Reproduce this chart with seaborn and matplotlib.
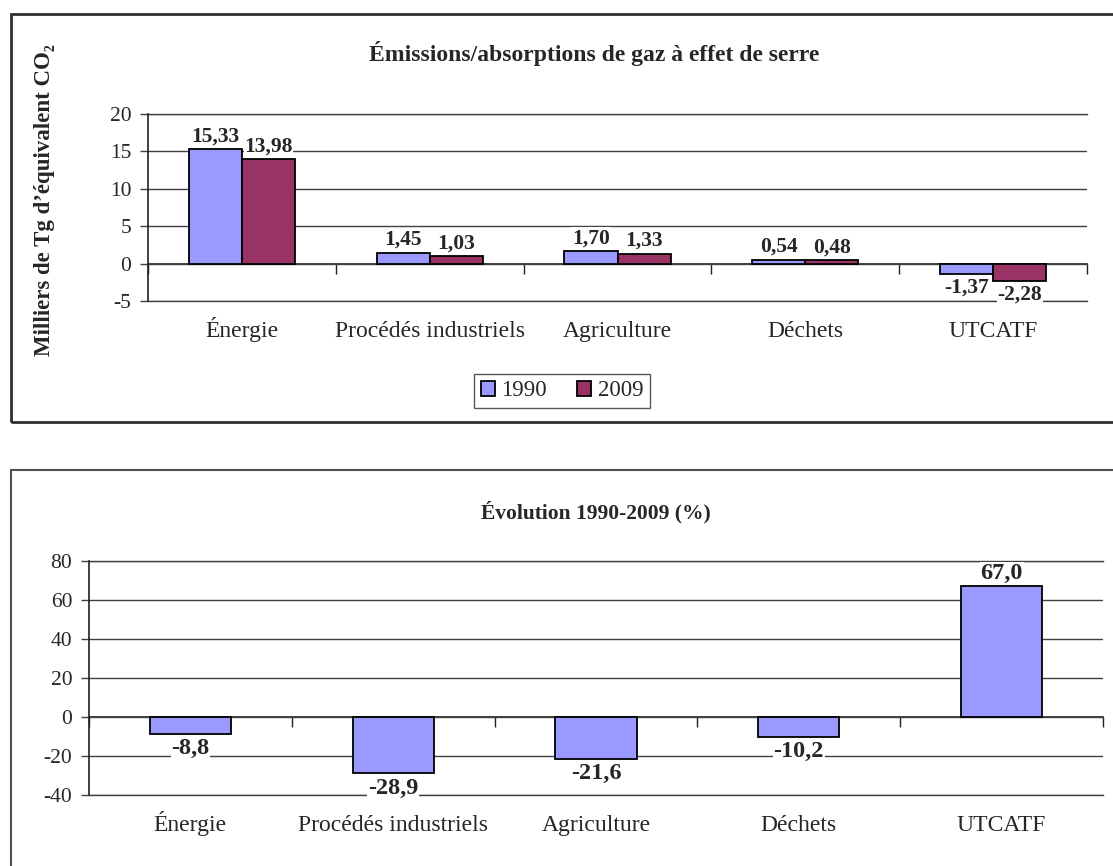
import numpy as np
import pandas as pd
import matplotlib.pyplot as plt
import seaborn as sns
from matplotlib.patches import Rectangle, Patch
from matplotlib.ticker import FixedLocator

# =========================
# Data
# =========================
categories = ["Énergie", "Procédés industriels", "Agriculture", "Déchets", "UTCATF"]
years = ["1990", "2009"]
emis_1990 = [15.33, 1.45, 1.70, 0.54, -1.37]
emis_2009 = [13.98, 1.03, 1.33, 0.48, -2.28]
evolution = [-8.8, -28.9, -21.6, -10.2, 67.0]

top_ticks = [-5, 0, 5, 10, 15, 20]
bottom_ticks = [-40, -20, 0, 20, 40, 60, 80]

colors = {"1990": "#9999FF", "2009": "#993366"}

sns.set_theme(style="white")
plt.rcParams['font.family'] = ['Liberation Serif', 'DejaVu Serif']
plt.rcParams['axes.unicode_minus'] = False

W, H = 1113, 866
fig = plt.figure(figsize=(W / 100, H / 100), dpi=100)


def px_axes(x0, y0, x1, y1):
    return fig.add_axes([x0 / W, 1 - y1 / H, (x1 - x0) / W, (y1 - y0) / H])


def fmt(v, nd):
    return f"{v:.{nd}f}".replace('.', ',')


def style_axes(ax, ticks, zero_frac):
    ax.set_ylim(ticks[0], ticks[-1])
    ax.set_yticks(ticks)
    ax.set_yticklabels([str(t) for t in ticks], fontsize=15.5)
    ax.set_xlim(-0.5, len(categories) - 0.5)
    ax.set_xticks(range(len(categories)))
    ax.set_xticklabels(categories, fontsize=17)
    for lbl in ax.get_xticklabels():
        lbl.set_verticalalignment('baseline')
    ax.tick_params(axis='x', length=0, pad=26)
    ax.tick_params(axis='y', length=6, width=1, color='#404040', direction='out', pad=6, left=True)
    ax.grid(axis='y', color='#404040', linewidth=1)
    ax.grid(axis='x', visible=False)
    ax.set_axisbelow(True)
    for s in ['top', 'bottom']:
        ax.spines[s].set_color('#404040')
        ax.spines[s].set_linewidth(1)
    ax.spines['right'].set_visible(False)
    ax.spines['left'].set_color('#202020')
    ax.spines['left'].set_linewidth(1.2)
    ax.set_xlabel("")
    ax.set_ylabel("")
    # category axis crossing at zero, with ticks between categories
    sec = ax.secondary_xaxis(zero_frac)
    sec.xaxis.set_major_locator(FixedLocator(np.arange(-0.5, len(categories), 1.0)))
    sec.set_xticklabels([])
    sec.tick_params(axis='x', direction='out', length=7, width=1, color='#202020')
    sec.spines['bottom'].set_color('#202020')
    sec.spines['bottom'].set_linewidth(1.2)


def label_bars(ax, bars, nd, size):
    for bar in bars:
        h = bar.get_height()
        xc = bar.get_x() + bar.get_width() / 2
        up = h >= 0
        ax.annotate(fmt(h, nd), (xc, h), xytext=(0, 2 if up else -3),
                    textcoords='offset points', ha='center',
                    va='bottom' if up else 'top', fontsize=size, fontweight='bold',
                    bbox=dict(facecolor='white', edgecolor='none', pad=0.5))


# =========================
# Frames
# =========================
fig.patches.append(Rectangle((11 / W, 1 - 422 / H), 1.2, (422 - 14) / H,
                             transform=fig.transFigure, fill=False,
                             edgecolor='#303030', linewidth=2))
fig.patches.append(Rectangle((11 / W, -0.2), 1.2, 0.2 + (866 - 470) / H,
                             transform=fig.transFigure, fill=False,
                             edgecolor='#505050', linewidth=1.5))

# =========================
# Top chart
# =========================
df_top = pd.DataFrame({
    'cat': categories * 2,
    'year': [years[0]] * len(categories) + [years[1]] * len(categories),
    'val': emis_1990 + emis_2009,
})

ax1 = px_axes(148, 114, 1087, 301)
sns.barplot(data=df_top, x='cat', y='val', hue='year', palette=colors,
            width=0.565, edgecolor='black', linewidth=1.3, ax=ax1, legend=False,
            saturation=1)
style_axes(ax1, top_ticks, 5 / 25)

for cont in ax1.containers:
    label_bars(ax1, cont, 2, 15.5)

fig.text(594 / W, 1 - 54 / H, "Émissions/absorptions de gaz à effet de serre",
         ha='center', va='center', fontsize=17, fontweight='bold')
fig.text(45 / W, 1 - 200 / H, "Milliers de Tg d\u2019équivalent CO\u2082",
         ha='center', va='center', rotation=90, fontsize=16.5, fontweight='bold')

handles = [Patch(facecolor=colors[y], edgecolor='black', linewidth=1.3, label=y) for y in years]
leg = fig.legend(handles=handles, loc='center', bbox_to_anchor=(562 / W, 1 - 391 / H),
                 ncol=2, fontsize=16.5, frameon=True, fancybox=False, shadow=False,
                 handlelength=0.6, handleheight=0.6, handletextpad=0.3,
                 columnspacing=1.3, borderpad=0.3, borderaxespad=0)
leg.get_frame().set_edgecolor('#303030')
leg.get_frame().set_linewidth(1)

# =========================
# Bottom chart
# =========================
df_bot = pd.DataFrame({'cat': categories, 'val': evolution})

ax2 = px_axes(89, 561, 1103, 795)
sns.barplot(data=df_bot, x='cat', y='val', color=colors["1990"], width=0.4,
            edgecolor='black', linewidth=1.3, ax=ax2, saturation=1)
style_axes(ax2, bottom_ticks, 40 / 120)

label_bars(ax2, ax2.containers[0], 1, 17.5)

fig.text(596 / W, 1 - 512 / H, "Évolution 1990-2009 (%)",
         ha='center', va='center', fontsize=15.5, fontweight='bold')

fig.savefig("out.png", dpi=100, facecolor='white')
